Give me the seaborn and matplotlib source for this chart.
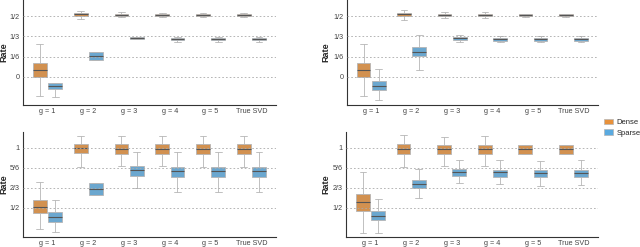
import pandas as pd
import matplotlib.pyplot as plt
import numpy as np
import seaborn as sns

groups = ["g = 1", "g = 2", "g = 3", "g = 4", "g = 5", "True SVD"]
methods = ["Dense", "Sparse"]

# five-number summaries [low whisker, q1, median, q3, high whisker]
tl_dense = [[-0.158, 0.0, 0.058, 0.114, 0.267],
            [0.478, 0.498, 0.514, 0.525, 0.544],
            [0.49, 0.498, 0.506, 0.514, 0.53],
            [0.49, 0.498, 0.506, 0.514, 0.528],
            [0.49, 0.498, 0.506, 0.514, 0.528],
            [0.49, 0.498, 0.506, 0.514, 0.528]]
tl_sparse = [[-0.164, -0.103, -0.08, -0.053, -0.05],
             [0.136, 0.136, 0.169, 0.2025, 0.2025],
             [0.311, 0.311, 0.319, 0.3275, 0.3275],
             [0.29, 0.303, 0.31, 0.317, 0.33],
             [0.29, 0.303, 0.31, 0.317, 0.33],
             [0.29, 0.303, 0.31, 0.317, 0.33]]

tr_dense = [[-0.158, 0.0, 0.056, 0.114, 0.267],
            [0.47, 0.498, 0.514, 0.525, 0.55],
            [0.485, 0.498, 0.506, 0.514, 0.53],
            [0.485, 0.498, 0.506, 0.514, 0.53],
            [0.495, 0.498, 0.506, 0.514, 0.516],
            [0.495, 0.498, 0.506, 0.514, 0.516]]
tr_sparse = [[-0.194, -0.111, -0.075, -0.036, 0.064],
             [0.056, 0.167, 0.208, 0.245, 0.347],
             [0.286, 0.306, 0.317, 0.328, 0.347],
             [0.283, 0.2975, 0.308, 0.32, 0.339],
             [0.283, 0.2975, 0.308, 0.32, 0.333],
             [0.283, 0.2975, 0.308, 0.32, 0.333]]

bl_dense = [[0.322, 0.456, 0.506, 0.567, 0.719],
            [0.844, 0.956, 1.0, 1.033, 1.1],
            [0.85, 0.947, 0.994, 1.033, 1.1],
            [0.85, 0.947, 0.994, 1.033, 1.1],
            [0.844, 0.947, 0.994, 1.033, 1.1],
            [0.844, 0.947, 0.994, 1.033, 1.1]]
bl_sparse = [[0.303, 0.386, 0.428, 0.467, 0.567],
             [0.608, 0.608, 0.656, 0.711, 0.711],
             [0.664, 0.767, 0.817, 0.85, 0.969],
             [0.636, 0.761, 0.808, 0.844, 0.969],
             [0.636, 0.761, 0.808, 0.844, 0.969],
             [0.636, 0.761, 0.808, 0.844, 0.969]]

br_dense = [[0.294, 0.478, 0.553, 0.617, 0.803],
            [0.844, 0.947, 0.994, 1.033, 1.108],
            [0.85, 0.947, 0.994, 1.028, 1.094],
            [0.85, 0.947, 0.994, 1.028, 1.1],
            [0.947, 0.947, 0.99, 1.025, 1.025],
            [0.947, 0.947, 0.99, 1.025, 1.025]]
br_sparse = [[0.294, 0.4, 0.436, 0.472, 0.572],
             [0.581, 0.664, 0.697, 0.733, 0.822],
             [0.706, 0.769, 0.797, 0.825, 0.9],
             [0.7, 0.761, 0.797, 0.817, 0.9],
             [0.683, 0.761, 0.789, 0.817, 0.889],
             [0.69, 0.761, 0.789, 0.817, 0.9]]

top_ticks = [0, 1/6, 1/3, 1/2]
top_labels = ["0", "1/6", "1/3", "1/2"]
bot_ticks = [1/2, 2/3, 5/6, 1]
bot_labels = ["1/2", "2/3", "5/6", "1"]


def make_df(dense, sparse):
    rows = []
    for g, d, s in zip(groups, dense, sparse):
        for v in d:
            rows.append((g, "Dense", v))
        for v in s:
            rows.append((g, "Sparse", v))
    return pd.DataFrame(rows, columns=["g", "method", "rate"])


sns.set_style("white")
plt.rcParams["font.family"] = ["Liberation Sans", "DejaVu Sans"]

fig = plt.figure(figsize=(6.4, 2.47), dpi=100)
pal = {"Dense": "#E8913A", "Sparse": "#5AAAE0"}

panels = [
    ([0.036, 0.575, 0.395, 0.425], tl_dense, tl_sparse, top_ticks, top_labels, (-0.233, 0.633), -0.057),
    ([0.542, 0.575, 0.392, 0.425], tr_dense, tr_sparse, top_ticks, top_labels, (-0.233, 0.633), -0.064),
    ([0.036, 0.042, 0.395, 0.424], bl_dense, bl_sparse, bot_ticks, bot_labels, (0.261, 1.133), -0.057),
    ([0.541, 0.042, 0.393, 0.424], br_dense, br_sparse, bot_ticks, bot_labels, (0.261, 1.133), -0.064),
]

for pos, dense, sparse, ticks, labels, ylim, lab_x in panels:
    ax = fig.add_axes(pos)
    df = make_df(dense, sparse)
    sns.boxplot(data=df, x="g", y="rate", hue="method", order=groups,
                hue_order=methods, palette=pal, width=0.75, gap=0.1,
                whis=(0, 100), fliersize=0, linewidth=0.6, linecolor="#b5b5b5",
                medianprops={"color": "#555555", "linewidth": 0.8},
                legend=False, ax=ax)
    ax.set_xlim(-0.6, 5.6)
    ax.set_ylim(*ylim)
    ax.set_yticks(ticks)
    ax.set_yticklabels(labels)
    ax.yaxis.grid(True, color="#aaaaaa", linestyle=(0, (2, 2.5)), linewidth=0.6)
    ax.set_axisbelow(False)
    ax.set_xlabel("")
    ax.set_ylabel("Rate", fontsize=6.5, fontweight="bold")
    ax.yaxis.set_label_coords(lab_x, 0.5)
    sns.despine(ax=ax)
    for sp in ["left", "bottom"]:
        ax.spines[sp].set_color("#333333")
        ax.spines[sp].set_linewidth(0.8)
    ax.tick_params(axis="both", labelsize=5.2, labelcolor="#444444", length=1.5,
                   width=0.5, pad=1, color="#555555")

handles = [plt.Rectangle((0, 0), 1, 1, facecolor=pal[m], edgecolor="#b5b5b5",
                         linewidth=0.5) for m in methods]
fig.legend(handles, methods, loc="upper left", bbox_to_anchor=(0.944, 0.52),
           frameon=False, fontsize=5.5, handlelength=1.1, handleheight=0.8,
           handletextpad=0.5, labelspacing=0.4, borderaxespad=0, borderpad=0)

fig.savefig("out.png", dpi=100)
